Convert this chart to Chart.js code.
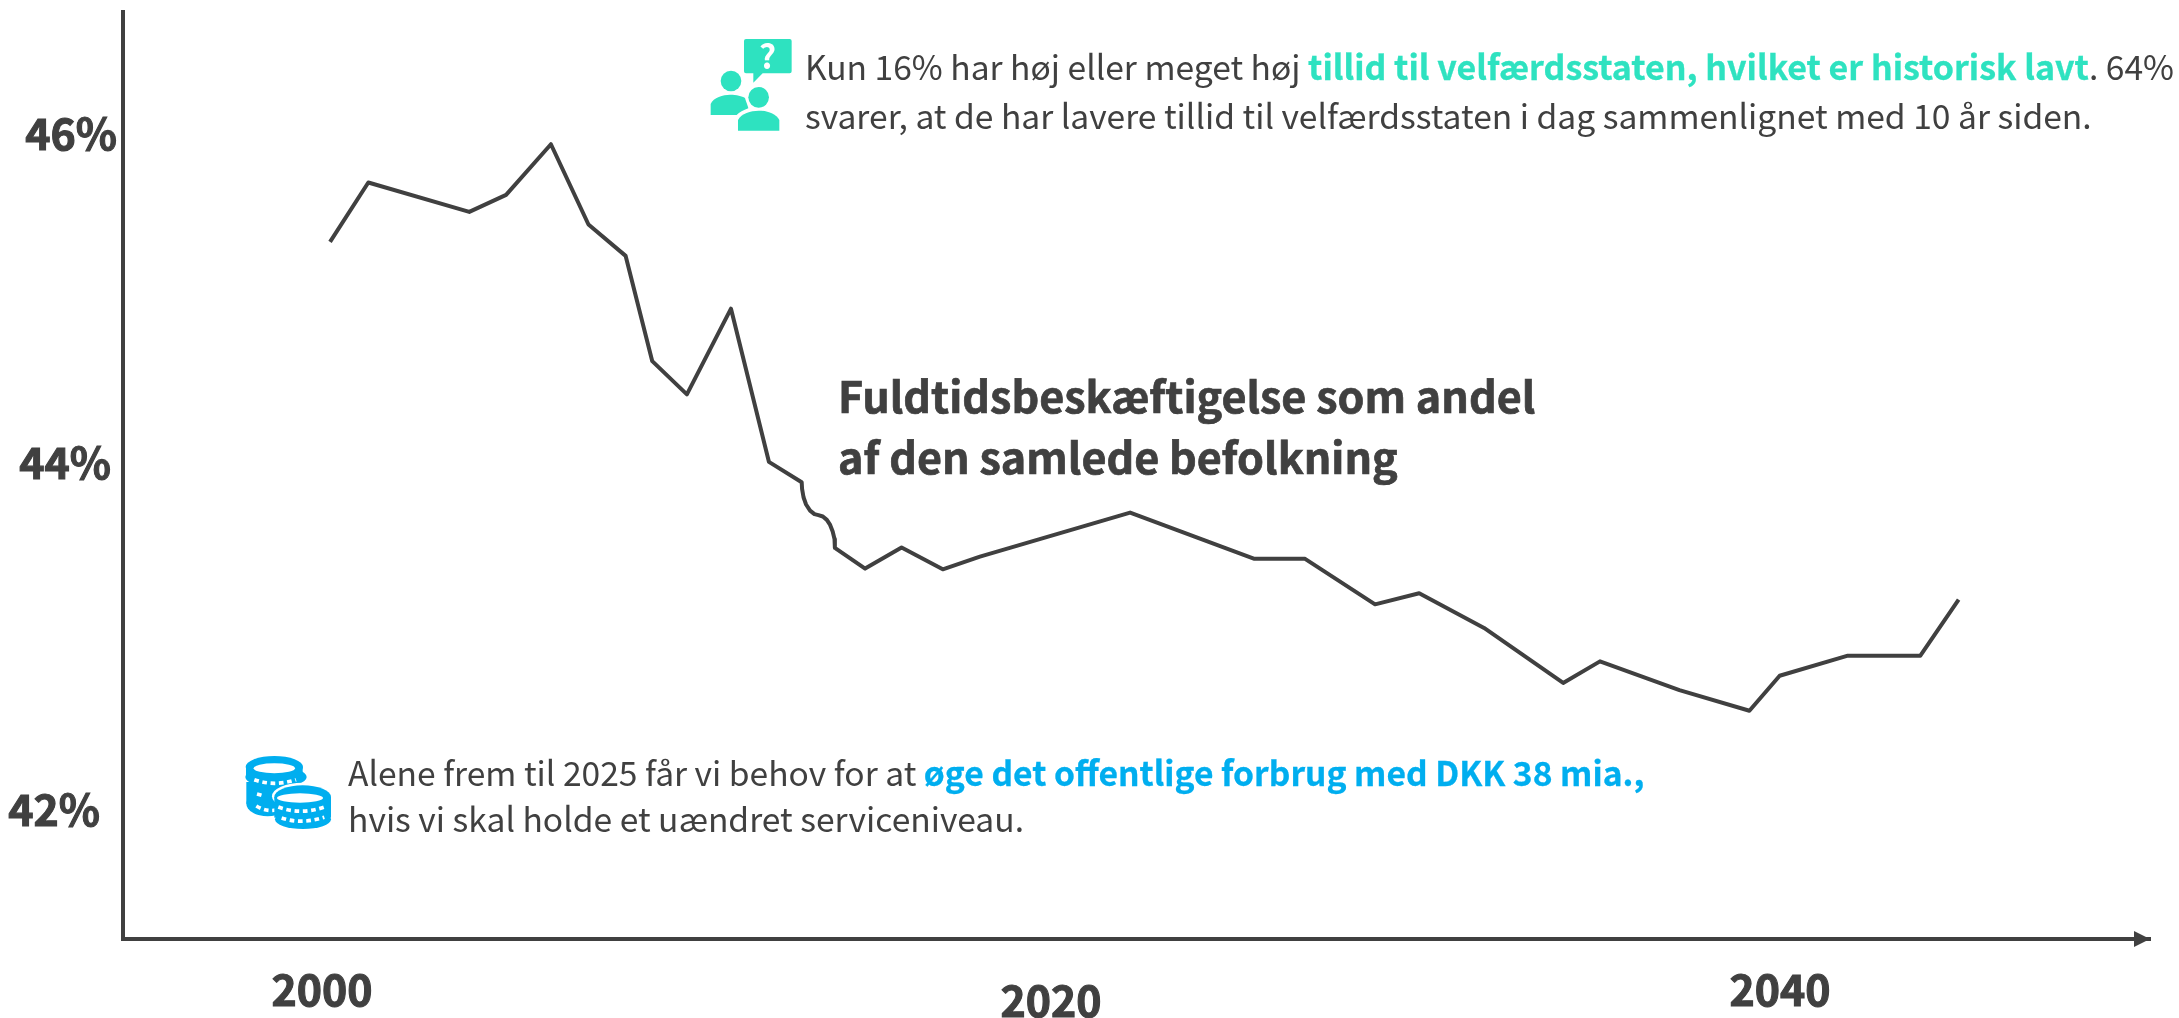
<!DOCTYPE html>
<html lang="da">
<head>
<meta charset="utf-8">
<title>Fuldtidsbeskæftigelse</title>
<script src="https://cdn.jsdelivr.net/npm/chart.js@4/dist/chart.umd.min.js"></script>
<style>
  html, body { margin: 0; padding: 0; background: #fff; }
  #wrap { position: relative; width: 2179px; height: 1018px; overflow: hidden; }
  canvas, svg { position: absolute; left: 0; top: 0; }
  .note {
    position: absolute; white-space: nowrap; color: #404040;
    font-family: "Noto Sans CJK JP", "Noto Sans", sans-serif;
    font-size: 33.6px; line-height: 46px;
  }
  .note b { font-weight: 700; -webkit-text-stroke: 0.3px currentColor; }
  .teal { color: #2ee2c0; }
  .blue { color: #00aeef; }
  .title { font-size: 43.1px; font-weight: 700; line-height: 61px; -webkit-text-stroke: 0.7px #404040; }
</style>
</head>
<body>
<div id="wrap">
  <canvas id="chart" width="2179" height="1018"></canvas>

  <svg width="2179" height="1018" viewBox="0 0 2179 1018">
    <!-- people icon -->
    <g transform="translate(680 20) scale(0.3333)" fill="#2ee2c0">
      <path d="M198 57H329a6 6 0 0 1 6 6V154a6 6 0 0 1-6 6H248L220 188V160H198a6 6 0 0 1-6-6V63a6 6 0 0 1 6-6Z"/>
      <text x="263" y="146" font-family="Noto Sans CJK JP" font-size="100" font-weight="700" fill="#fff" text-anchor="middle">?</text>
      <circle cx="153" cy="183" r="31"/>
      <path d="M92 285V252C100 232 130 224 150 224C170 224 186 228 195 234C200 250 205 262 205 265C190 270 178 278 170 285Z"/>
      <circle cx="236" cy="232" r="31"/>
      <path d="M174 332V300C184 280 212 272 236 272C260 272 288 280 298 300V332Z"/>
    </g>
    <!-- coins icon -->
    <g transform="translate(221 732) scale(0.3333)" fill="#00aeef">
      <ellipse cx="140" cy="215" rx="64" ry="38"/>
      <rect x="76" y="150" width="128" height="65"/>
      <path d="M108 186l18 5M106 222Q135 240 165 234" stroke="#fff" stroke-width="11" stroke-dasharray="14 11" fill="none"/>

      <ellipse cx="160" cy="105" rx="86" ry="33"/>
      <rect x="75" y="105" width="170" height="28"/>
      <ellipse cx="165" cy="135" rx="92" ry="32"/>
      <ellipse cx="160" cy="109" rx="62" ry="15" fill="#fff"/>
      <path d="M100 143Q160 165 225 143" stroke="#fff" stroke-width="11" stroke-dasharray="14 11" fill="none"/>

      <ellipse cx="245" cy="193" rx="92" ry="41" fill="#fff"/>
      <ellipse cx="246" cy="262" rx="84" ry="29"/>
      <ellipse cx="245" cy="195" rx="85" ry="35"/>
      <rect x="160" y="195" width="170" height="62"/>
      <ellipse cx="237" cy="198" rx="69" ry="14" fill="#fff"/>
      <path d="M172 225Q240 250 310 225" stroke="#fff" stroke-width="11" stroke-dasharray="14 11" fill="none"/>
      <path d="M182 258Q240 278 310 256" stroke="#fff" stroke-width="11" stroke-dasharray="14 11" fill="none"/>
    </g>
  </svg>

  <div class="note" style="left:805px;top:43px">Kun 16% har høj eller meget høj <b class="teal" style="font-size:34px">tillid til velfærdsstaten, hvilket er historisk lavt</b>. 64%</div>
  <div class="note" style="left:805px;top:92px">svarer, at de har lavere tillid til velfærdsstaten i dag sammenlignet med 10 år siden.</div>
  <div class="note title" style="left:838px;top:364px">Fuldtidsbeskæftigelse som andel</div>
  <div class="note title" style="left:838px;top:425px">af den samlede befolkning</div>
  <div class="note" style="left:348px;top:749px">Alene frem til 2025 får vi behov for at <b class="blue">øge det offentlige forbrug med DKK 38 mia.,</b></div>
  <div class="note" style="left:348px;top:795px">hvis vi skal holde et uændret serviceniveau.</div>
</div>

<script>
const years = [
  2000.22, 2001.27, 2004.04, 2005.05, 2006.28, 2007.31, 2008.33, 2009.06, 2010.01, 2011.22,
  2012.26, 2013.16, 2013.17, 2013.21, 2013.28, 2013.39, 2013.51, 2013.62, 2013.74, 2013.85,
  2013.94, 2014.01, 2014.06, 2014.07, 2014.90, 2015.90, 2017.03, 2018.05, 2022.17, 2025.58,
  2026.97, 2028.89, 2030.10, 2031.88, 2034.05, 2035.06, 2037.24, 2039.16, 2039.99, 2041.86,
  2043.85, 2044.90
];
const shares = [
  45.366, 45.718, 45.544, 45.645, 45.945, 45.469, 45.283, 44.659, 44.462, 44.97,
  44.062, 43.941, 43.902, 43.852, 43.809, 43.773, 43.752, 43.746, 43.738, 43.718,
  43.688, 43.649, 43.605, 43.552, 43.429, 43.554, 43.425, 43.5, 43.761, 43.487,
  43.487, 43.217, 43.283, 43.077, 42.751, 42.879, 42.709, 42.586, 42.794, 42.913,
  42.913, 43.245
];
const xTicks = [2000, 2020, 2040];
const yTicks = [42, 44, 46];

const ink = "#404040";
const tickFont = '700 42.8px "Noto Sans CJK JP", "Noto Sans", sans-serif';

// the labels in the picture are placed by hand, so they sit a bit off the scale
const xLabelShift = { 2000: 0, 2020: 11, 2040: 0 };
const yLabelShift = { 42: [-17, 0], 44: [-6, -10], 46: [0, -1] };

const axisExtras = {
  id: "axisExtras",
  afterDraw(chart) {
    const { ctx, scales: { x, y } } = chart;
    ctx.save();
    ctx.fillStyle = ink;
    ctx.strokeStyle = ink;
    ctx.lineWidth = 1.1;

    // arrow on the x axis
    const ay = y.bottom;
    ctx.beginPath();
    ctx.moveTo(x.right - 16, ay - 8);
    ctx.lineTo(x.right, ay);
    ctx.lineTo(x.right - 16, ay + 8);
    ctx.closePath();
    ctx.fill();

    // filled and stroked, the reference labels are heavier than plain bold
    const label = (text, px, py) => {
      ctx.fillText(text, px, py);
      ctx.strokeText(text, px, py);
    };

    ctx.font = tickFont;
    ctx.textAlign = "center";
    ctx.textBaseline = "middle";
    x.ticks.forEach((t) => {
      label(String(t.value), x.getPixelForValue(t.value), 990 + xLabelShift[t.value]);
    });
    ctx.textAlign = "right";
    y.ticks.forEach((t) => {
      const [dx, dy] = yLabelShift[t.value];
      label(t.value + "%", 117 + dx, y.getPixelForValue(t.value) + dy);
    });
    ctx.restore();
  },
};

new Chart(document.getElementById("chart"), {
  type: "line",
  data: {
    datasets: [{
      data: years.map((year, i) => ({ x: year, y: shares[i] })),
      borderColor: ink,
      borderWidth: 4,
      borderJoinStyle: "round",
      pointRadius: 0,
      tension: 0,
    }],
  },
  options: {
    responsive: false,
    animation: false,
    layout: { padding: { top: 12, right: 29, left: 0, bottom: 0 } },
    plugins: { legend: { display: false }, tooltip: { enabled: false } },
    scales: {
      x: {
        type: "linear",
        min: 1994.54,
        max: 2050.15,
        grid: { display: false },
        border: { color: ink, width: 4 },
        ticks: { display: false },
        afterBuildTicks: (scale) => { scale.ticks = xTicks.map((value) => ({ value })); },
        afterFit: (scale) => { scale.height = 79; },
      },
      y: {
        min: 41.233,
        max: 46.729,
        grid: { display: false },
        border: { color: ink, width: 4 },
        ticks: { display: false },
        afterBuildTicks: (scale) => { scale.ticks = yTicks.map((value) => ({ value })); },
        afterFit: (scale) => { scale.width = 123; },
      },
    },
  },
  plugins: [axisExtras],
});
</script>
</body>
</html>
